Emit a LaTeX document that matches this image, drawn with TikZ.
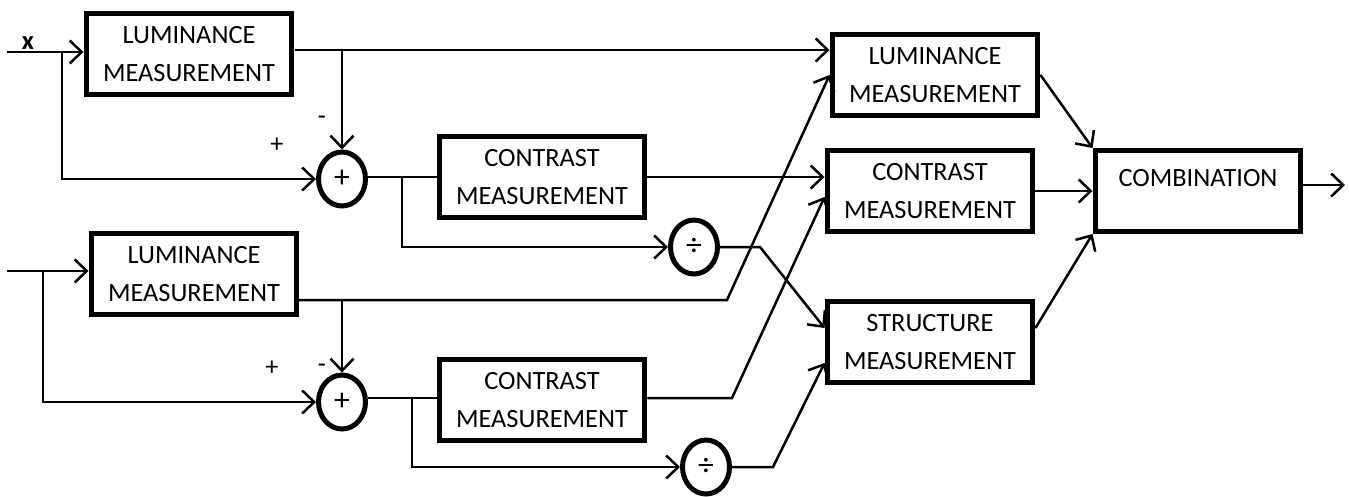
\documentclass[tikz,border=0pt]{standalone}
\usepackage{fontspec}
\setmainfont{Carlito}
\usetikzlibrary{arrows.meta,shapes.geometric,calc}
\tikzset{
  meas/.style={draw, line width=0.1cm, minimum width=4.12cm, minimum height=1.62cm,
    inner sep=0pt, align=center, font=\fontsize{15}{21.5}\selectfont},
  oper/.style={draw, ellipse, line width=0.1cm, minimum width=0.94cm,
    minimum height=1.08cm, inner sep=0pt, font=\fontsize{18}{20}\selectfont},
  sign/.style={font=\fontsize{15}{18}\selectfont},
  wire/.style={line width=0.05cm},
  feed/.style={wire, -{Straight Barb[length=0.24cm,width=0.46cm]}},
}

\begin{document}
\begin{tikzpicture}[x=0.02cm,y=-0.02cm]
            \useasboundingbox (0,0) rectangle (1349,497);
            % measurement blocks
            \node[meas] (lumA) at (189,54) {LUMINANCE\\MEASUREMENT};
            \node[meas] (lumB) at (194,274) {LUMINANCE\\MEASUREMENT};
            \node[meas] (conA) at (542,177) {CONTRAST\\MEASUREMENT};
            \node[meas] (conB) at (542,400) {CONTRAST\\MEASUREMENT};
            \node[meas] (lumR) at (935,75) {LUMINANCE\\MEASUREMENT};
            \node[meas] (conR) at (930,191) {CONTRAST\\MEASUREMENT};
            \node[meas] (strR) at (930,342) {STRUCTURE\\MEASUREMENT};
            \node[meas, text depth=0.52cm] (comb) at (1198,191) {COMBINATION};
            % operators
            \node[oper] (sumA) at (342,179) {+};
            \node[oper] (sumB) at (342,402) {+};
            \node[oper] (divA) at (694,247) {÷};
            \node[oper] (divB) at (706,467) {÷};
            % signs
            \node[sign] (plA) at (277,145) {+};
            \node[sign] (miA) at (322,120) {-};
            \node[sign] (plB) at (272,368) {+};
            \node[sign] (miB) at (322,368) {-};
            \node[sign, font=\fontsize{15}{18}\selectfont\bfseries] (xlab) at (28,43) {x};
            % branch points and bends
            \coordinate (inA) at (7,52);
            \coordinate (inB) at (7,271);
            \coordinate (brA) at (62,52);
            \coordinate (brB) at (402,177);
            \coordinate (brC) at (43,271);
            \coordinate (brD) at (412,398);
            \coordinate (kinkA) at (760,247);
            \coordinate (kinkB) at (727,300);
            \coordinate (kinkC) at (732,398);
            \coordinate (kinkD) at (773,467);
            \coordinate (outA) at (295,50);
            \coordinate (outB) at (298,300);
            \coordinate (outC) at (1345,185);
            % first signal
            \draw[feed] (inA) -- (inA -| lumA.west);
            \draw[feed] (brA) |- (sumA.west);
            \draw[feed] (outA) -- (outA -| lumR.west);
            \draw[feed] (sumA.north |- outA) -- (sumA.north);
            \draw[wire] (sumA.east |- brB) -- (brB -| conA.west);
            \draw[feed] (brB) |- (divA.west);
            \draw[feed] (conA.east) -- (conA.east -| conR.west);
            \draw[feed] (divA.east) -- (kinkA) -- ($(strR.west)+(0,-14)$);
            % second signal
            \draw[feed] (inB) -- (inB -| lumB.west);
            \draw[feed] (brC) |- (sumB.west);
            \draw[feed] (outB) -- (kinkB) -- (lumR.west);
            \draw[feed] (sumB.north |- outB) -- (sumB.north);
            \draw[wire] (sumB.east |- brD) -- (brD -| conB.west);
            \draw[feed] (brD) |- (divB.west);
            \draw[feed] (conB.east |- kinkC) -- (kinkC) -- ($(conR.west)+(0,6)$);
            \draw[feed] (divB.east) -- (kinkD) -- ($(strR.west)+(0,21)$);
            % combination
            \draw[feed] (lumR.east) -- (comb.north west);
            \draw[feed] (conR.east) -- (comb.west);
            \draw[feed] ($(strR.east)+(0,-14)$) -- (comb.south west);
            \draw[feed] (comb.east |- outC) -- (outC);
        \end{tikzpicture}
\end{document}
